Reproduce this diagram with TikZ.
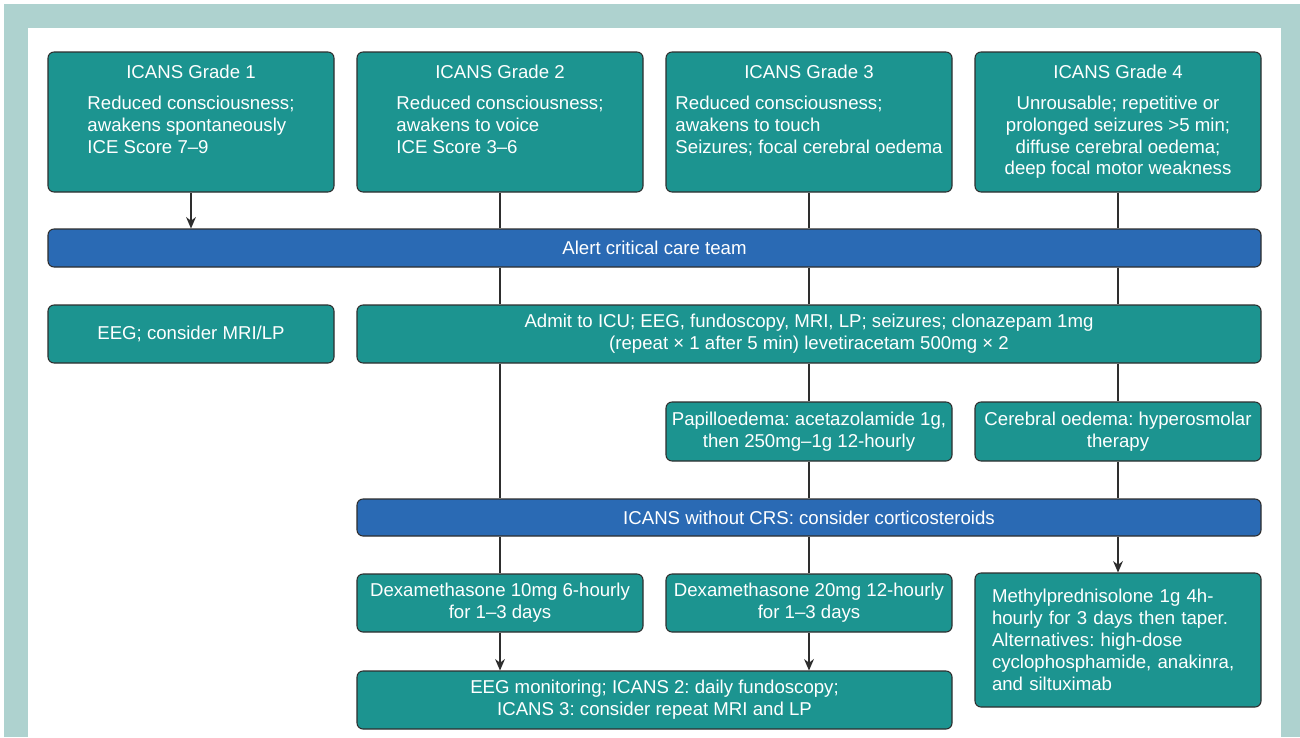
\documentclass[tikz,border=0pt]{standalone}
\usepackage{fontspec}
\setmainfont{Liberation Sans}
\usetikzlibrary{arrows.meta}
\frenchspacing

\definecolor{frameteal}{HTML}{AED2CF}
\definecolor{boxteal}{HTML}{1C9490}
\definecolor{barblue}{HTML}{2A6AB4}
\definecolor{linegray}{HTML}{2E2E2E}

\newdimen\pxu \pxu=0.02cm
\newcommand{\boxfont}{\fontsize{10.6pt}{12.5pt}\selectfont}
% title centred, body as a block
\newcommand{\gradetext}[3]{\parbox[c][140\pxu][t]{286\pxu}{\centering\rule{0pt}{15pt}#1\\[5pt]\begin{tabular}[t]{@{}#2@{}}#3\end{tabular}}}

\tikzset{
  gradebox/.style={draw=linegray, line width=0.6pt, fill=boxteal, rounded corners=3.4pt,
    minimum width=286\pxu, minimum height=140\pxu, inner sep=0pt, text=white, font=\boxfont},
  tealbox/.style={draw=linegray, line width=0.6pt, fill=boxteal, rounded corners=3.4pt,
    minimum width=286\pxu, minimum height=58\pxu, inner sep=2pt, align=center, text=white, font=\boxfont},
  barbox/.style={draw=linegray, line width=0.6pt, fill=barblue, rounded corners=3.4pt,
    minimum height=38\pxu, inner sep=2pt, text=white, font=\boxfont},
  link/.style={draw=linegray, line width=0.7pt},
  arr/.style={link, -{Stealth[length=6.5pt,width=5.6pt]}}
}

\begin{document}
\begin{tikzpicture}[x=0.02cm, y=-0.02cm]

  % Frame
  \useasboundingbox (0,0) rectangle (1300,737);
  \fill[white] (0,0) rectangle (1300,737);
  \fill[frameteal] (4,4) rectangle (1300,737);
  \fill[white] (28,28) rectangle (1281,737);

  % Grades
  \node[gradebox] (g1) at (191,122) {\gradetext{ICANS Grade 1}{l}{Reduced consciousness;\\awakens spontaneously\\ICE Score 7–9}};
  \node[gradebox] (g2) at (500,122) {\gradetext{ICANS Grade 2}{l}{Reduced consciousness;\\awakens to voice\\ICE Score 3–6}};
  \node[gradebox] (g3) at (809,122) {\gradetext{ICANS Grade 3}{l}{Reduced consciousness;\\awakens to touch\\Seizures; focal cerebral oedema}};
  \node[gradebox] (g4) at (1118,122) {\gradetext{ICANS Grade 4}{c}{Unrousable; repetitive or\\prolonged seizures >5 min;\\diffuse cerebral oedema;\\deep focal motor weakness}};

  \node[barbox, minimum width=1213\pxu] (alert) at (654.5,248) {Alert critical care team};

  % Management
  \node[tealbox] (eeg) at (191,334) {EEG; consider MRI/LP};
  \node[tealbox, minimum width=904\pxu] (admit) at (809,334) {Admit to ICU; EEG, fundoscopy, MRI, LP; seizures; clonazepam 1mg\\(repeat × 1 after 5 min) levetiracetam 500mg × 2};
  \node[tealbox, minimum height=59\pxu] (papil) at (809,431.5) {Papilloedema: acetazolamide 1g,\\then 250mg–1g 12-hourly};
  \node[tealbox, minimum height=59\pxu] (cereb) at (1118,431.5) {Cerebral oedema: hyperosmolar\\therapy};

  \node[barbox, minimum width=904\pxu, minimum height=37\pxu] (crs) at (809,517.5) {ICANS without CRS: consider corticosteroids};

  % Steroids
  \node[tealbox] (dexa1) at (500,603) {Dexamethasone 10mg 6-hourly\\for 1–3 days};
  \node[tealbox] (dexa2) at (809,603) {Dexamethasone 20mg 12-hourly\\for 1–3 days};
  \node[tealbox, minimum height=134\pxu, text width=252\pxu, inner xsep=17\pxu, align=left] (methyl) at (1118,640)
    {Methylprednisolone 1g 4h-\\hourly for 3 days then taper.\\Alternatives: high-dose\\cyclophosphamide, anakinra,\\and siltuximab};
  \node[tealbox, minimum width=595\pxu] (eegmon) at (654.5,700) {EEG monitoring; ICANS 2: daily fundoscopy;\\ICANS 3: consider repeat MRI and LP};

  % Connectors
  \draw[arr] (g1) -- (g1 |- alert.north);
  \foreach \g in {g2,g3,g4}{
    \draw[link] (\g) -- (\g |- alert.north);
    \draw[link] (\g |- alert.south) -- (\g |- admit.north);
  }
  \draw[link] (g2 |- admit.south) -- (g2 |- crs.north);
  \draw[link] (papil |- admit.south) -- (papil);
  \draw[link] (cereb |- admit.south) -- (cereb);
  \draw[link] (papil) -- (papil |- crs.north);
  \draw[link] (cereb) -- (cereb |- crs.north);
  \draw[link] (dexa1 |- crs.south) -- (dexa1);
  \draw[link] (dexa2 |- crs.south) -- (dexa2);
  \draw[arr] (methyl |- crs.south) -- (methyl);
  \draw[arr] (dexa1) -- (dexa1 |- eegmon.north);
  \draw[arr] (dexa2) -- (dexa2 |- eegmon.north);

\end{tikzpicture}
\end{document}
